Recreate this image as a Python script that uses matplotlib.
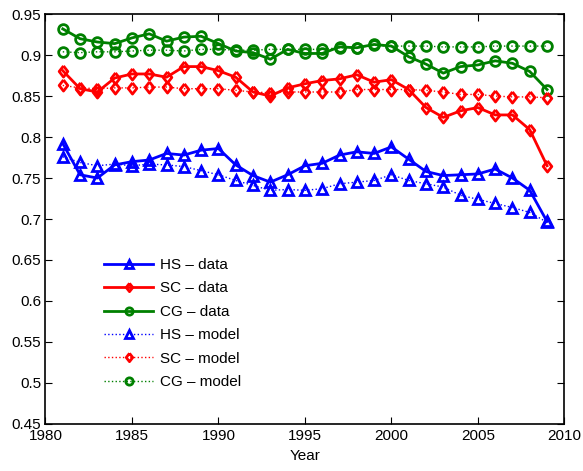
import matplotlib
matplotlib.use('Agg')
import matplotlib.pyplot as plt

# yearly values, 1981-2009
years = [1981, 1982, 1983, 1984, 1985, 1986, 1987, 1988, 1989, 1990,
         1991, 1992, 1993, 1994, 1995, 1996, 1997, 1998, 1999, 2000,
         2001, 2002, 2003, 2004, 2005, 2006, 2007, 2008, 2009]

hs_data = [0.792, 0.754, 0.750, 0.766, 0.770, 0.772, 0.780, 0.778, 0.784, 0.786,
           0.766, 0.753, 0.745, 0.754, 0.765, 0.768, 0.778, 0.782, 0.780, 0.788,
           0.773, 0.758, 0.753, 0.754, 0.755, 0.761, 0.750, 0.735, 0.697]
sc_data = [0.881, 0.859, 0.855, 0.872, 0.877, 0.877, 0.873, 0.886, 0.886, 0.881,
           0.873, 0.855, 0.850, 0.860, 0.865, 0.869, 0.871, 0.876, 0.867, 0.870,
           0.858, 0.836, 0.824, 0.832, 0.836, 0.827, 0.827, 0.809, 0.765]
cg_data = [0.932, 0.920, 0.916, 0.914, 0.921, 0.926, 0.917, 0.922, 0.923, 0.914,
           0.905, 0.903, 0.895, 0.907, 0.902, 0.902, 0.910, 0.909, 0.913, 0.911,
           0.898, 0.889, 0.878, 0.886, 0.888, 0.893, 0.890, 0.880, 0.858]

hs_model = [0.776, 0.769, 0.765, 0.767, 0.765, 0.767, 0.766, 0.764, 0.759, 0.754,
            0.747, 0.741, 0.735, 0.736, 0.735, 0.737, 0.743, 0.745, 0.747, 0.754,
            0.747, 0.743, 0.739, 0.729, 0.724, 0.719, 0.714, 0.708, 0.696]
sc_model = [0.863, 0.860, 0.859, 0.860, 0.860, 0.861, 0.861, 0.859, 0.859, 0.859,
            0.857, 0.855, 0.854, 0.855, 0.855, 0.855, 0.855, 0.858, 0.858, 0.858,
            0.858, 0.857, 0.855, 0.852, 0.852, 0.850, 0.849, 0.849, 0.848]
cg_model = [0.904, 0.903, 0.904, 0.904, 0.905, 0.906, 0.906, 0.905, 0.907, 0.907,
            0.906, 0.906, 0.907, 0.907, 0.907, 0.907, 0.909, 0.909, 0.912, 0.911,
            0.911, 0.911, 0.910, 0.910, 0.910, 0.911, 0.911, 0.911, 0.911]

x_ticks = [1980, 1985, 1990, 1995, 2000, 2005, 2010]
y_ticks = [0.45, 0.5, 0.55, 0.6, 0.65, 0.7, 0.75, 0.8, 0.85, 0.9, 0.95]
y_tick_labels = ['0.45', '0.5', '0.55', '0.6', '0.65', '0.7', '0.75',
                 '0.8', '0.85', '0.9', '0.95']

plt.rcParams['font.family'] = ['Liberation Sans', 'DejaVu Sans']
plt.rcParams['font.size'] = 11

blue = '#0000ff'
red = '#ff0000'
green = '#008000'

# MATLAB-like diamond: a bit wider than matplotlib's thin 'd'
diamond = [(0, 1), (0.78, 0), (0, -1), (-0.78, 0), (0, 1)]

fig = plt.figure(figsize=(5.83, 4.71), dpi=100)
ax = fig.add_axes([0.078, 0.100, 0.890, 0.870])

series = [
    (hs_data, blue, '^', 7, '-', 2.0, 'HS \u2013 data'),
    (sc_data, red, diamond, 8, '-', 2.0, 'SC \u2013 data'),
    (cg_data, green, 'o', 7, '-', 2.0, 'CG \u2013 data'),
    (hs_model, blue, '^', 7, ':', 1.0, 'HS \u2013 model'),
    (sc_model, red, diamond, 8, ':', 1.0, 'SC \u2013 model'),
    (cg_model, green, 'o', 7, ':', 1.0, 'CG \u2013 model'),
]
for vals, col, mk, ms, ls, lw, lab in series:
    ax.plot(years, vals, color=col, linestyle=ls, linewidth=lw,
            marker=mk, markersize=ms, markerfacecolor='none',
            markeredgecolor=col, markeredgewidth=2.0, label=lab)

ax.set_xlim(1980, 2010)
ax.set_ylim(0.45, 0.95)
ax.set_xticks(x_ticks)
ax.set_yticks(y_ticks)
ax.set_yticklabels(y_tick_labels)
ax.tick_params(direction='in', top=True, right=True, length=5, width=0.8)
ax.tick_params(axis='x', pad=4)
ax.tick_params(axis='y', pad=3)
for sp in ax.spines.values():
    sp.set_linewidth(1.2)
ax.set_xlabel('Year', labelpad=4)

leg = ax.legend(loc='upper left', bbox_to_anchor=(0.113, 0.405),
                frameon=False, handlelength=3.2, handletextpad=0.45,
                labelspacing=0.62, borderpad=0, borderaxespad=0,
                markerscale=0.75)

fig.savefig('out.png', dpi=100, facecolor='white')
